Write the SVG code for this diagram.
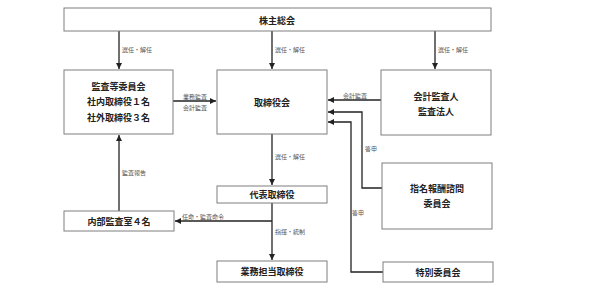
<svg xmlns="http://www.w3.org/2000/svg" width="612" height="300" viewBox="0 0 612 300">
<style>
.box{fill:#fff;stroke:#7f7f7f;stroke-width:1}
.t{font-family:"Noto Sans CJK JP","Noto Sans",sans-serif;font-size:9px;font-weight:bold;fill:#222;text-anchor:middle;dominant-baseline:central}
.l{font-family:"Noto Sans CJK JP","Noto Sans",sans-serif;font-size:6px;fill:#555;dominant-baseline:central}
.c{fill:none;stroke:#222;stroke-width:1.3}
</style>
<defs>
<marker id="a" markerWidth="8" markerHeight="8" refX="6" refY="3" orient="auto" markerUnits="userSpaceOnUse">
<path d="M0,0 L6,3 L0,6 z" fill="#222"/>
</marker>
</defs>
<rect width="612" height="300" fill="#fff"/>
<g id="connectors">
<path class="c" d="M119,31 V69" marker-end="url(#a)"/>
<path class="c" d="M272,31 V69" marker-end="url(#a)"/>
<path class="c" d="M435,31 V69" marker-end="url(#a)"/>
<path class="c" d="M173,101 H216" marker-end="url(#a)"/>
<path class="c" d="M381,100 H328" marker-end="url(#a)"/>
<path class="c" d="M382,188 H362 V112 H328" marker-end="url(#a)"/>
<path class="c" d="M383,272 H351 V122 H328" marker-end="url(#a)"/>
<path class="c" d="M272,134 V185" marker-end="url(#a)"/>
<path class="c" d="M272,203 V260" marker-end="url(#a)"/>
<path class="c" d="M272,221 H175" marker-end="url(#a)"/>
<path class="c" d="M119,211 V135" marker-end="url(#a)"/>
<text class="l" x="122" y="49">選任・解任</text>
<text class="l" x="275" y="49">選任・解任</text>
<text class="l" x="438" y="49">選任・解任</text>
<text class="l" x="195" y="96" text-anchor="middle">業務監査</text>
<text class="l" x="195" y="107" text-anchor="middle">会計監査</text>
<text class="l" x="355" y="95" text-anchor="middle">会計監査</text>
<text class="l" x="365" y="148">答申</text>
<text class="l" x="352" y="212">答申</text>
<text class="l" x="275" y="156">選任・解任</text>
<text class="l" x="275" y="231">指揮・統制</text>
<text class="l" x="203" y="216" text-anchor="middle">任命・監査命令</text>
<text class="l" x="122" y="172">監査報告</text>
</g>
<g id="shareholders"><rect class="box" x="64" y="8" width="427" height="23"/><text class="t" x="277" y="20">株主総会</text></g>
<g id="audit-committee"><rect class="box" x="64" y="70" width="109" height="64"/><text class="t" x="118.5" y="86">監査等委員会</text><text class="t" x="118.5" y="101">社内取締役１名</text><text class="t" x="118.5" y="117">社外取締役３名</text></g>
<g id="board"><rect class="box" x="217" y="70" width="110" height="64"/><text class="t" x="272" y="102">取締役会</text></g>
<g id="auditor"><rect class="box" x="381" y="70" width="110" height="65"/><text class="t" x="436" y="96">会計監査人</text><text class="t" x="436" y="111">監査法人</text></g>
<g id="representative"><rect class="box" x="217" y="186" width="110" height="17"/><text class="t" x="272" y="194.5">代表取締役</text></g>
<g id="executive"><rect class="box" x="217" y="261" width="110" height="21"/><text class="t" x="272" y="271.5">業務担当取締役</text></g>
<g id="internal-audit"><rect class="box" x="64" y="211" width="110" height="20"/><text class="t" x="119" y="221">内部監査室４名</text></g>
<g id="nomination"><rect class="box" x="382" y="163" width="110" height="66"/><text class="t" x="437" y="188">指名報酬諮問</text><text class="t" x="437" y="203">委員会</text></g>
<g id="special"><rect class="box" x="383" y="262" width="110" height="20"/><text class="t" x="438" y="272">特別委員会</text></g>
</svg>
